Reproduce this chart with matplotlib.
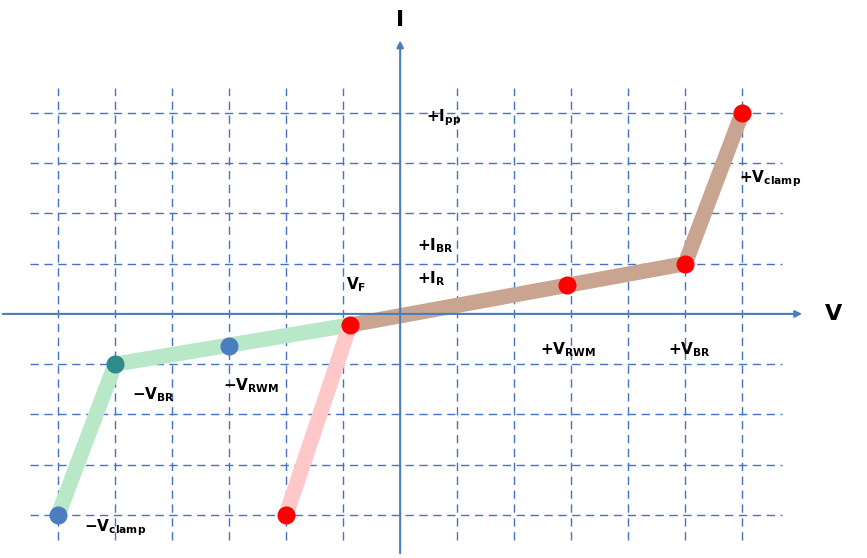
import matplotlib.pyplot as plt

# curve vertices in grid units (x: voltage steps, y: current steps)
vf = (-0.88, -0.22)
pos_x = [vf[0], 5.0, 6.0]
pos_y = [vf[1], 1.0, 4.0]
neg_x = [vf[0], -5.0, -6.0]
neg_y = [vf[1], -1.0, -4.0]
fwd_x = [vf[0], -2.0]
fwd_y = [vf[1], -4.0]

red_x = [6.0, 5.0, 2.93, vf[0], -2.0]
red_y = [4.0, 1.0, 0.58, vf[1], -4.0]
blue_x = [-3.0, -6.0]
blue_y = [-0.64, -4.0]
teal_x = [-5.0]
teal_y = [-1.0]

labels = [
    (r"$\mathbf{+I_{pp}}$", 0.45, 3.9),
    (r"$\mathbf{+V_{clamp}}$", 5.95, 2.7),
    (r"$\mathbf{+I_{BR}}$", 0.3, 1.35),
    (r"$\mathbf{+I_{R}}$", 0.3, 0.7),
    (r"$\mathbf{V_{F}}$", -0.95, 0.58),
    (r"$\mathbf{+V_{RWM}}$", 2.45, -0.72),
    (r"$\mathbf{+V_{BR}}$", 4.7, -0.72),
    (r"$\mathbf{-V_{BR}}$", -4.7, -1.6),
    (r"$\mathbf{-V_{RWM}}$", -3.1, -1.42),
    (r"$\mathbf{-V_{clamp}}$", -5.55, -4.25),
]

fig = plt.figure(figsize=(8.67, 5.58), dpi=100)
ax = fig.add_axes([0, 0, 1, 1])
ax.set_xlim(-7.02, 8.19)
ax.set_ylim(-4.86, 6.25)
ax.axis("off")

grid_c = "#4472C4"
for gx in range(-6, 7):
    if gx != 0:
        ax.plot([gx, gx], [-4.5, 4.5], color=grid_c, lw=1, ls=(0, (6, 4)))
for gy in range(-4, 5):
    if gy != 0:
        ax.plot([-6.5, 6.7], [gy, gy], color=grid_c, lw=1, ls=(0, (6, 4)))

axis_c = "#4a7ebb"
ax.annotate("", xy=(7.1, 0), xytext=(-7.02, 0),
            arrowprops=dict(arrowstyle="-|>", color=axis_c, lw=1.5))
ax.annotate("", xy=(0, 5.5), xytext=(0, -4.82),
            arrowprops=dict(arrowstyle="-|>", color=axis_c, lw=1.5))
ax.text(0, 5.65, "I", fontsize=16, fontweight="bold", ha="center", va="bottom")
ax.text(7.6, 0, "V", fontsize=16, fontweight="bold", ha="center", va="center")

ax.plot(pos_x, pos_y, color="#c9a591", lw=11, solid_capstyle="butt", solid_joinstyle="round")
ax.plot(neg_x, neg_y, color="#b8e8c8", lw=11, solid_capstyle="butt", solid_joinstyle="round")
ax.plot(fwd_x, fwd_y, color="#ffc8c8", lw=11, solid_capstyle="butt")

ax.plot(red_x, red_y, "o", color="#ff0000", ms=12, ls="none")
ax.plot(blue_x, blue_y, "o", color="#4a7ebf", ms=12, ls="none")
ax.plot(teal_x, teal_y, "o", color="#2e8b8b", ms=12, ls="none")

for txt, lx, ly in labels:
    ax.text(lx, ly, txt, fontsize=11, ha="left", va="center")

fig.savefig("out.png", dpi=100)
